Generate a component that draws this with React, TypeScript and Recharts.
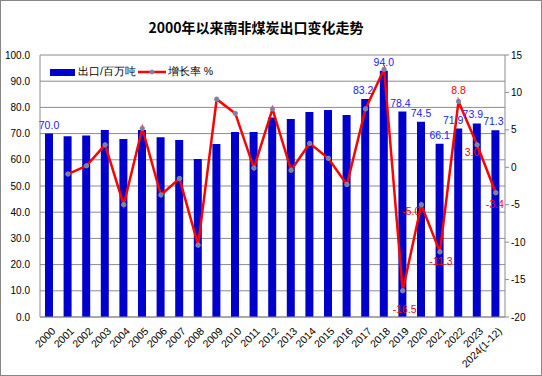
import { ComposedChart, Bar, Line, XAxis, YAxis, CartesianGrid, LabelList } from 'recharts';

const years = ['2000', '2001', '2002', '2003', '2004', '2005', '2006', '2007', '2008', '2009', '2010', '2011', '2012',
  '2013', '2014', '2015', '2016', '2017', '2018', '2019', '2020', '2021', '2022', '2023', '2024(1-12)'];
const exportMt = [70.0, 69.0, 69.3, 71.4, 67.9, 71.4, 68.6, 67.6, 60.3, 66.0, 70.6, 70.6, 76.1,
  75.6, 78.2, 79.0, 77.1, 83.2, 94.0, 78.4, 74.5, 66.1, 71.9, 73.9, 71.3];
const growthPct = [null, -0.9, 0.2, 3.0, -5.0, 5.2, -3.7, -1.5, -10.4, 9.1, 7.2, -0.1, 7.8,
  -0.4, 3.2, 1.2, -2.3, 7.8, 13.1, -16.5, -5.0, -11.3, 8.8, 3.0, -3.4];
const leftTicks = [0, 10, 20, 30, 40, 50, 60, 70, 80, 90, 100];
const rightTicks = [-20, -15, -10, -5, 0, 5, 10, 15];

const data = years.map((year, i) => ({ year, exportMt: exportMt[i], growthPct: growthPct[i] }));

const FONT = '"Liberation Sans", Arial, sans-serif';
const barLabelAt = [0, 17, 18, 19, 20, 21, 22, 23, 24];
const barLabelDx: Record<number, number> = { 17: -2, 19: -2, 22: -5, 23: -4, 24: -2 };
// where the red labels sit relative to their point
const lineLabelOff: Record<number, [number, number]> = {
  19: [2, 22], 20: [-10, 10], 21: [1, 13], 22: [0, -7], 23: [-5, 11], 24: [-1, 15],
};

const XTick = (props: any) => {
  const { x, y, payload } = props;
  return (
    <g transform={`translate(${x + 4},${y + 4})`}>
      <text transform="rotate(-45)" textAnchor="end" fontSize={10.5} fontFamily={FONT} fill="#000" dy={4}>
        {payload.value}
      </text>
    </g>
  );
};

const BarLabel = (props: any) => {
  const { x, y, width, value, index } = props;
  if (!barLabelAt.includes(index)) return null;
  return (
    <text x={x + width / 2 + (barLabelDx[index] || 0)} y={y - 5} textAnchor="middle" fontSize={10.5}
      fontFamily={FONT} fill="#1a1aff">
      {Number(value).toFixed(1)}
    </text>
  );
};

const LineLabel = (props: any) => {
  const { x, y, value, index } = props;
  const off = lineLabelOff[index];
  if (!off) return null;
  return (
    <text x={x + off[0]} y={y + off[1]} textAnchor="middle" fontSize={10.5} fontFamily={FONT} fill="#ff0000">
      {Number(value).toFixed(1)}
    </text>
  );
};

const LegendBox = () => (
  <div style={{ position: 'absolute', left: 50, top: 65, display: 'flex', alignItems: 'center', fontSize: 10.5,
    fontFamily: FONT, color: '#000', zIndex: 1 }}>
    <span style={{ display: 'inline-block', width: 25, height: 7, background: '#0000cc', marginRight: 3 }} />
    <span>出口/百万吨</span>
    <svg width={28} height={10} style={{ margin: '0 2px' }}>
      <line x1={0} y1={5} x2={28} y2={5} stroke="#ff0000" strokeWidth={2.5} />
      <circle cx={14} cy={5} r={2} fill="#7083a8" stroke="#8a8aa8" />
    </svg>
    <span>增长率 %</span>
  </div>
);

export default function App() {
  return (
    <div style={{ position: 'absolute', left: 0, top: 0, width: 542, height: 376, background: '#fff' }}>
      <div style={{ position: 'absolute', left: 0, top: 0, width: 542, height: 376, border: '1px solid #868686',
        boxSizing: 'border-box', pointerEvents: 'none', zIndex: 2 }} />
      <div style={{ position: 'absolute', left: 0, width: 512, top: 17, textAlign: 'center', fontSize: 14,
        fontWeight: 'bold', fontFamily: '"Noto Sans CJK SC", sans-serif', color: '#000', zIndex: 1 }}>
        2000年以来南非煤炭出口变化走势
      </div>
      <LegendBox />
      <ComposedChart width={542} height={376} data={data} margin={{ top: 55, right: 0, bottom: 9, left: 8 }}
        barCategoryGap={0}>
        <CartesianGrid vertical={false} stroke="#8c8c8c" yAxisId="left" />
        <XAxis dataKey="year" interval={0} height={50} tick={<XTick />} tickLine={false}
          axisLine={{ stroke: '#8c8c8c' }} />
        <YAxis yAxisId="left" domain={[0, 100]} ticks={leftTicks} width={32} tickLine={false}
          axisLine={{ stroke: '#8c8c8c' }} tickFormatter={(v: number) => v.toFixed(1)}
          tick={{ fontSize: 10, fontFamily: FONT, fill: '#000' }} tickMargin={4} />
        <YAxis yAxisId="right" orientation="right" domain={[-20, 15]} ticks={rightTicks} width={37}
          tickSize={4} tickLine={{ stroke: '#8c8c8c' }} axisLine={{ stroke: '#8c8c8c' }}
          tick={{ fontSize: 10, fontFamily: FONT, fill: '#000' }} tickMargin={2} />
        <Bar yAxisId="left" dataKey="exportMt" fill="#0000cc" barSize={8} isAnimationActive={false}>
          <LabelList dataKey="exportMt" content={<BarLabel />} />
        </Bar>
        <Line yAxisId="right" dataKey="growthPct" stroke="#ff0000" strokeWidth={2.5} isAnimationActive={false}
          dot={{ r: 2.2, fill: '#7083a8', stroke: '#8a8aa8', strokeWidth: 1 }} connectNulls={false}>
          <LabelList dataKey="growthPct" content={<LineLabel />} />
        </Line>
      </ComposedChart>
    </div>
  );
}
